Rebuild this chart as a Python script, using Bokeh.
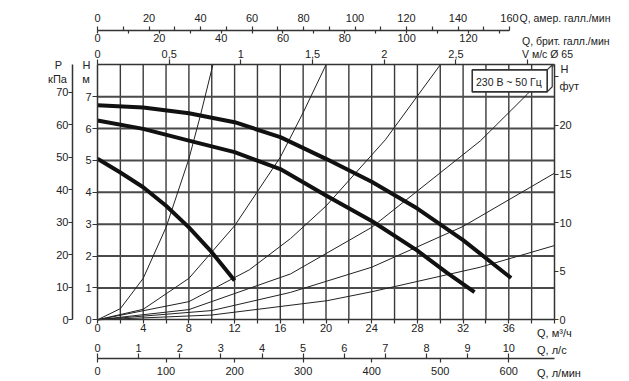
from bokeh.plotting import figure
from bokeh.models import Range1d, LinearAxis, FixedTicker, Label, CustomJSTickFormatter
from bokeh.embed import file_html
from bokeh.resources import INLINE

# ---------------- data ----------------
# pump curves: flow Q (m3/h) vs head H (m)
q_pump_max = [0, 4, 8, 12, 16, 20, 24, 28, 32, 36.2]
h_pump_max = [6.73, 6.66, 6.48, 6.2, 5.73, 5.05, 4.33, 3.49, 2.5, 1.31]
q_pump_mid = [0, 4, 8, 12, 16, 20, 24, 28, 30.6, 33.0]
h_pump_mid = [6.25, 5.99, 5.62, 5.26, 4.73, 3.9, 3.1, 2.17, 1.47, 0.87]
q_pump_min = [0, 2, 4, 6, 8, 10, 12]
h_pump_min = [5.05, 4.62, 4.16, 3.58, 2.9, 2.12, 1.23]

# system (resistance) curves, thin lines
q_sys1 = [0, 2, 4, 6, 8, 9, 10.1]
h_sys1 = [0, 0.35, 1.3, 2.9, 5.05, 6.4, 8.0]
q_sys2 = [0, 4, 8, 12, 16, 18, 20]
h_sys2 = [0, 0.33, 1.3, 2.95, 5.1, 6.5, 8.0]
q_sys3 = [0, 8, 13.3, 16.9, 20, 25.2, 30]
h_sys3 = [0, 0.57, 1.57, 2.55, 3.57, 5.65, 8.0]
q_sys4 = [0, 8, 16.9, 24, 33.5, 37.6, 40]
h_sys4 = [0, 0.32, 1.44, 2.9, 5.61, 7.07, 8.0]
q_sys5 = [0, 10, 16.9, 24, 32, 40]
h_sys5 = [0, 0.29, 0.86, 1.65, 2.93, 4.6]
q_sys6 = [0, 10, 20.1, 24, 33.5, 40]
h_sys6 = [0, 0.15, 0.6, 0.88, 1.65, 2.33]

# axis extents and tick values
Q_MAX = 40
H_MAX = 8
q_ticks = list(range(0, 41, 2))
h_ticks = list(range(0, 8))
kpa_ticks = list(range(0, 71, 10))
ft_ticks = [0, 5, 10, 15, 20, 25]
ls_ticks = list(range(0, 11))
lmin_ticks = [0, 100, 200, 300, 400, 500, 600]
usgpm_ticks = list(range(0, 161, 10))
ukgpm_ticks = list(range(0, 131, 10))
vel_ticks = [0, 0.5, 1, 1.5, 2, 2.5, 3]

# unit conversions
KPA_PER_M = 9.81
FT_PER_M = 3.2808
LS_PER_M3H = 1 / 3.6
LMIN_PER_M3H = 1000 / 60
USGPM_M3H = 0.2254
UKGPM_M3H = 0.2706
VEL_M3H = 12.55

# ---------------- layout (pixels) ----------------
W, H = 629, 381
PLOT_L, PLOT_R, PLOT_T, PLOT_B = 97, 554, 64.3, 319.3
qpx = Q_MAX / (PLOT_R - PLOT_L)        # m3/h per pixel
hpx = H_MAX / (PLOT_B - PLOT_T)        # m per pixel
X0, X1 = -PLOT_L * qpx, Q_MAX + (W - PLOT_R) * qpx
Y0, Y1 = -(H - PLOT_B) * hpx, H_MAX + PLOT_T * hpx


def q_at(px):
    return (px - PLOT_L) * qpx


def h_at(py):
    return (PLOT_B - py) * hpx


FONT = "Liberation Sans"
INK = "#222222"
AX = "#333333"

p = figure(width=W, height=H, x_range=Range1d(X0, X1), y_range=Range1d(Y0, Y1),
           output_backend="svg", toolbar_location=None,
           x_axis_location=None, y_axis_location=None,
           min_border_left=0, min_border_right=0, min_border_top=0, min_border_bottom=0)
p.background_fill_color = "white"
p.border_fill_color = "white"
p.outline_line_color = None
for g in p.grid:
    g.visible = False

p.extra_x_ranges = {
    "ls": Range1d(X0 * LS_PER_M3H, X1 * LS_PER_M3H),
    "lmin": Range1d(X0 * LMIN_PER_M3H, X1 * LMIN_PER_M3H),
    "us": Range1d(X0 / USGPM_M3H, X1 / USGPM_M3H),
    "uk": Range1d(X0 / UKGPM_M3H, X1 / UKGPM_M3H),
    "vel": Range1d(X0 / VEL_M3H, X1 / VEL_M3H),
}
p.extra_y_ranges = {
    "kpa": Range1d(Y0 * KPA_PER_M, Y1 * KPA_PER_M),
    "ft": Range1d(Y0 * FT_PER_M, Y1 * FT_PER_M),
}


def style(ax, tick_out=4, standoff=1, line=True, size="11px"):
    ax.major_tick_out = tick_out
    ax.major_tick_in = 0
    ax.minor_tick_out = 0
    ax.minor_tick_in = 0
    ax.major_label_standoff = standoff
    ax.major_label_text_font = FONT
    ax.major_label_text_font_size = size
    ax.major_label_text_color = INK
    ax.major_tick_line_color = AX
    ax.major_tick_line_width = 1.2
    ax.minor_tick_line_color = AX
    ax.minor_tick_line_width = 1.2
    ax.axis_line_color = AX if line else None
    ax.axis_line_width = 1.5


# ---------------- grid (drawn from the tick lists) ----------------
q_grid = q_ticks[1:-1]
h_grid = list(range(1, H_MAX))
p.segment(x0=q_grid, y0=[0] * len(q_grid), x1=q_grid, y1=[H_MAX] * len(q_grid),
          line_color="#3a3a3a", line_width=1.4)
p.segment(x0=[0] * len(h_grid), y0=h_grid, x1=[Q_MAX] * len(h_grid), y1=h_grid,
          line_color="#4a4a4a", line_width=2)

# ---------------- curves ----------------
for qs, hs in [(q_sys1, h_sys1), (q_sys2, h_sys2), (q_sys3, h_sys3),
               (q_sys4, h_sys4), (q_sys5, h_sys5), (q_sys6, h_sys6)]:
    p.line(qs, hs, line_color="#222222", line_width=1)

for qs, hs in [(q_pump_max, h_pump_max), (q_pump_mid, h_pump_mid), (q_pump_min, h_pump_min)]:
    p.line(qs, hs, line_color="#111111", line_width=4, line_join="round")

# voltage box with 3-D edge
BOX_L, BOX_R, BOX_B, BOX_T = 32.8, 39.36, 7.15, 7.84
DEPTH_Q, DEPTH_H = 0.44, 0.16
p.patch([BOX_R, BOX_R + DEPTH_Q, BOX_R + DEPTH_Q, BOX_R],
        [BOX_T, BOX_T + DEPTH_H, BOX_B + DEPTH_H, BOX_B],
        fill_color="white", line_color=AX, line_width=1.2)
p.quad(left=[BOX_L], right=[BOX_R], bottom=[BOX_B], top=[BOX_T],
       fill_color="white", line_color=AX, line_width=1.6)

# ---------------- axes (pinned with fixed_location) ----------------
# main Q axis m3/h (bottom of the plot box)
ax_q = LinearAxis(ticker=FixedTicker(ticks=q_ticks), fixed_location=0, bounds=(0, Q_MAX))
ax_q.formatter = CustomJSTickFormatter(code="return (tick % 4 == 0 && tick < 40) ? tick.toFixed(0) : '';")
style(ax_q, tick_out=4, standoff=0)
p.add_layout(ax_q, "below")

LMIN_LINE = h_at(358)
# l/s scale: labels above the lower line, ticks up
ax_ls = LinearAxis(x_range_name="ls", ticker=FixedTicker(ticks=ls_ticks),
                   fixed_location=LMIN_LINE, bounds=(0, Q_MAX * LS_PER_M3H))
style(ax_ls, tick_out=5, standoff=2, line=False)
p.add_layout(ax_ls, "above")
# l/min scale: labels below, ticks down
ax_lmin = LinearAxis(x_range_name="lmin", ticker=FixedTicker(ticks=lmin_ticks),
                     fixed_location=LMIN_LINE, bounds=(0, Q_MAX * LMIN_PER_M3H))
style(ax_lmin, tick_out=4, standoff=4)
p.add_layout(ax_lmin, "below")

# left H axis (m) and kPa axis
ax_m = LinearAxis(ticker=FixedTicker(ticks=h_ticks), fixed_location=0, bounds=(0, H_MAX))
style(ax_m, tick_out=5, standoff=1)
p.add_layout(ax_m, "left")

ax_kpa = LinearAxis(y_range_name="kpa", ticker=FixedTicker(ticks=kpa_ticks),
                    fixed_location=q_at(72), bounds=(0, H_MAX * KPA_PER_M))
style(ax_kpa, tick_out=4, standoff=0)
p.add_layout(ax_kpa, "left")

# right H axis (ft)
ax_ft = LinearAxis(y_range_name="ft", ticker=FixedTicker(ticks=ft_ticks),
                   fixed_location=Q_MAX, bounds=(0, H_MAX * FT_PER_M))
ax_ft.formatter = CustomJSTickFormatter(code="return tick < 25 ? tick.toFixed(0) : '';")
style(ax_ft, tick_out=4, standoff=1)
p.add_layout(ax_ft, "right")

# velocity axis on the top of the plot box
ax_vel = LinearAxis(x_range_name="vel", ticker=FixedTicker(ticks=vel_ticks),
                    fixed_location=H_MAX, bounds=(0, Q_MAX / VEL_M3H))
ax_vel.formatter = CustomJSTickFormatter(
    code="return tick >= 3 ? '' : String(tick).replace('.', ',');")
style(ax_vel, tick_out=5, standoff=2)
p.add_layout(ax_vel, "above")

GAL_LINE = h_at(29.5)
ax_us = LinearAxis(x_range_name="us", ticker=FixedTicker(ticks=usgpm_ticks),
                   fixed_location=GAL_LINE, bounds=(0, 160))
ax_us.formatter = CustomJSTickFormatter(code="return (tick % 20 == 0) ? tick.toFixed(0) : '';")
style(ax_us, tick_out=4, standoff=4)
p.add_layout(ax_us, "above")

ax_uk = LinearAxis(x_range_name="uk", ticker=FixedTicker(ticks=ukgpm_ticks),
                   fixed_location=GAL_LINE, bounds=(0, 130))
ax_uk.formatter = CustomJSTickFormatter(code="return (tick % 20 == 0) ? tick.toFixed(0) : '';")
style(ax_uk, tick_out=3, standoff=1, line=False)
p.add_layout(ax_uk, "below")


# ---------------- texts ----------------
def lab(x, y, text, align="left", size="11px"):
    p.add_layout(Label(x=x, y=y, text=text, text_font=FONT, text_font_size=size,
                       text_color=INK, text_align=align, text_baseline="middle"))


lab(36.0, 7.46, "230 В ~ 50 Гц", align="center", size="10.5px")
lab(q_at(519), h_at(17.5), "Q, амер. галл./мин", size="10.5px")
lab(q_at(521.5), h_at(40), "Q, брит. галл./мин", size="10.5px")
lab(q_at(521.5), h_at(53), "V м/с Ø 65", size="10.5px")
lab(q_at(536.5), h_at(332), "Q, м³/ч")
lab(q_at(536.5), h_at(349), "Q, л/с")
lab(q_at(536.5), h_at(372), "Q, л/мин")
lab(q_at(58), h_at(64.5), "P", align="center")
lab(q_at(57), h_at(78), "кПа", align="center")
lab(q_at(86), h_at(64.5), "H", align="center")
lab(q_at(85.5), h_at(78), "м", align="center")
lab(q_at(560), h_at(68), "H")
lab(q_at(559), h_at(85), "фут")

open("out.html", "w").write(file_html(p, INLINE))
